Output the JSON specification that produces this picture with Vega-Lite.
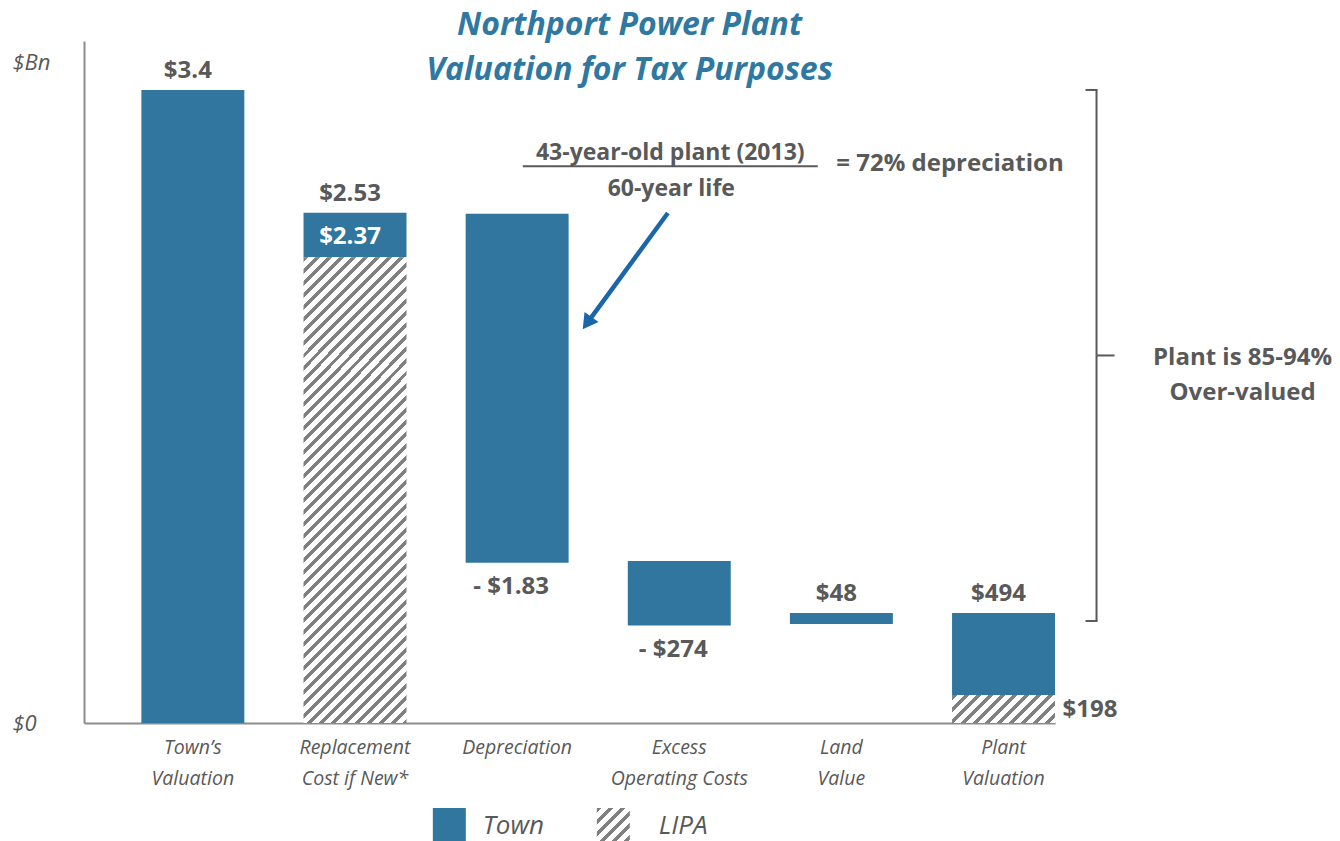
{
  "$schema": "https://vega.github.io/schema/vega-lite/v6.json",
  "width": 971,
  "height": 682,
  "autosize": {"type": "none"},
  "padding": {"left": 84, "top": 41, "right": 285, "bottom": 118},
  "background": "white",
  "config": {"view": {"stroke": null}, "text": {"font": "Open Sans"}},
  "title": {
    "text": ["Northport Power Plant", "Valuation for Tax Purposes"],
    "font": "Open Sans", "fontSize": 32, "fontWeight": "bold", "fontStyle": "italic",
    "color": "#2e78a2", "anchor": "middle", "frame": "group", "dx": 60, "dy": 75,
    "lineHeight": 45, "baseline": "alphabetic", "offset": 4
  },
  "datasets": {
    "segs": [
      {"cat": "Town’s Valuation", "series": "Town", "start": 0, "end": 3.4},
      {"cat": "Replacement Cost if New*", "series": "Town", "start": 2.501, "end": 2.741},
      {"cat": "Replacement Cost if New*", "series": "LIPA", "start": 0, "end": 2.501},
      {"cat": "Depreciation", "series": "Town", "start": 0.861, "end": 2.735},
      {"cat": "Excess Operating Costs", "series": "Town", "start": 0.523, "end": 0.87},
      {"cat": "Land Value", "series": "Town", "start": 0.532, "end": 0.591},
      {"cat": "Plant Valuation", "series": "Town", "start": 0.15, "end": 0.591},
      {"cat": "Plant Valuation", "series": "LIPA", "start": 0, "end": 0.15}
    ],
    "labels": [
      {"cat": "Town’s Valuation", "at": 3.4, "text": "$3.4", "pos": "above"},
      {"cat": "Replacement Cost if New*", "at": 2.741, "text": "$2.53", "pos": "above"},
      {"cat": "Replacement Cost if New*", "at": 2.741, "text": "$2.37", "pos": "inside"},
      {"cat": "Depreciation", "at": 0.861, "text": "- $1.83", "pos": "below"},
      {"cat": "Excess Operating Costs", "at": 0.523, "text": "- $274", "pos": "below"},
      {"cat": "Land Value", "at": 0.591, "text": "$48", "pos": "above"},
      {"cat": "Plant Valuation", "at": 0.591, "text": "$494", "pos": "above"},
      {"cat": "Plant Valuation", "at": 0, "text": "$198", "pos": "right"}
    ],
    "legend": [
      {"cat": "Depreciation", "series": "Town"},
      {"cat": "Depreciation", "series": "LIPA"}
    ],
    "notes": [
      {"id": "frac_top", "cat": "Excess Operating Costs", "y": 3.024, "text": "43-year-old plant (2013)"},
      {"id": "underline", "cat": "Excess Operating Costs", "y": 2.99, "text": ""},
      {"id": "frac_bottom", "cat": "Excess Operating Costs", "y": 2.831, "text": "60-year life"},
      {"id": "result", "cat": "Excess Operating Costs", "y": 2.965, "text": "= 72% depreciation"},
      {"id": "brace_note", "cat": "Plant Valuation", "y": 1.963, "text": "Plant is 85-94%\nOver-valued"}
    ],
    "arrow": [
      {"cat": "Depreciation", "from": 2.739, "to": 2.148}
    ],
    "brace": [
      {"cat": "Plant Valuation", "part": "upper", "top": 3.4, "bottom": 1.974},
      {"cat": "Plant Valuation", "part": "lower", "top": 1.974, "bottom": 0.548}
    ]
  },
  "encoding": {
    "x": {
      "field": "cat", "type": "nominal", "title": null,
      "scale": {
        "domain": ["Town’s Valuation", "Replacement Cost if New*", "Depreciation", "Excess Operating Costs", "Land Value", "Plant Valuation"],
        "paddingInner": 0.365, "paddingOuter": 0.177, "align": 1
      },
      "axis": {
        "domainColor": "#8c8c8c", "domainWidth": 2, "ticks": false, "tickSize": 0, "grid": false,
        "labelAngle": 0, "labelPadding": 15, "labelFont": "Open Sans", "labelFontStyle": "italic",
        "labelFontSize": 19.5, "labelColor": "#595959", "labelLineHeight": 31, "labelBaseline": "top",
        "labelExpr": "indexof(datum.label, ' ') > 0 ? [slice(datum.label, 0, indexof(datum.label, ' ')), slice(datum.label, indexof(datum.label, ' ') + 1)] : datum.label",
        "title": null
      }
    }
  },
  "layer": [
    {
      "data": {"name": "segs"},
      "transform": [{"filter": "datum.series === 'Town'"}],
      "mark": {"type": "bar", "opacity": 1},
      "encoding": {
        "y": {
          "field": "start", "type": "quantitative", "title": null,
          "scale": {"domain": [0, 3.663], "nice": false, "zero": false},
          "axis": {
            "domainColor": "#8c8c8c", "domainWidth": 2, "ticks": false, "tickSize": 0, "grid": false,
            "values": [0, 3.55], "labelExpr": "datum.value == 0 ? '$0' : '$Bn'",
            "labelAlign": "left", "labelPadding": 72, "labelFont": "Open Sans", "labelFontStyle": "italic",
            "labelFontSize": 22, "labelColor": "#595959", "labelBaseline": "middle", "labelFlush": false,
            "title": null
          }
        },
        "y2": {"field": "end"},
        "color": {
          "field": "series", "type": "nominal",
          "scale": {"domain": ["Town", "LIPA"], "range": ["#31769e", "#808080"]},
          "legend": null
        }
      }
    },
    {
      "data": {"name": "segs"},
      "transform": [{"filter": "datum.series === 'LIPA' && datum.cat === 'Replacement Cost if New*'"}],
      "mark": {"type": "bar", "fill": {"gradient": "linear", "x1": 0, "y1": 0, "x2": 0.2724, "y2": 1.23, "stops": [
        {"offset": 0, "color": "#808080"}, {"offset": 0.0083, "color": "#808080"}, {"offset": 0.0083, "color": "#ffffff"}, {"offset": 0.02, "color": "#ffffff"},
        {"offset": 0.02, "color": "#808080"}, {"offset": 0.0283, "color": "#808080"}, {"offset": 0.0283, "color": "#ffffff"}, {"offset": 0.04, "color": "#ffffff"},
        {"offset": 0.04, "color": "#808080"}, {"offset": 0.0483, "color": "#808080"}, {"offset": 0.0483, "color": "#ffffff"}, {"offset": 0.06, "color": "#ffffff"},
        {"offset": 0.06, "color": "#808080"}, {"offset": 0.0683, "color": "#808080"}, {"offset": 0.0683, "color": "#ffffff"}, {"offset": 0.08, "color": "#ffffff"},
        {"offset": 0.08, "color": "#808080"}, {"offset": 0.0883, "color": "#808080"}, {"offset": 0.0883, "color": "#ffffff"}, {"offset": 0.1, "color": "#ffffff"},
        {"offset": 0.1, "color": "#808080"}, {"offset": 0.1083, "color": "#808080"}, {"offset": 0.1083, "color": "#ffffff"}, {"offset": 0.12, "color": "#ffffff"},
        {"offset": 0.12, "color": "#808080"}, {"offset": 0.1283, "color": "#808080"}, {"offset": 0.1283, "color": "#ffffff"}, {"offset": 0.14, "color": "#ffffff"},
        {"offset": 0.14, "color": "#808080"}, {"offset": 0.1483, "color": "#808080"}, {"offset": 0.1483, "color": "#ffffff"}, {"offset": 0.16, "color": "#ffffff"},
        {"offset": 0.16, "color": "#808080"}, {"offset": 0.1683, "color": "#808080"}, {"offset": 0.1683, "color": "#ffffff"}, {"offset": 0.18, "color": "#ffffff"},
        {"offset": 0.18, "color": "#808080"}, {"offset": 0.1883, "color": "#808080"}, {"offset": 0.1883, "color": "#ffffff"}, {"offset": 0.2, "color": "#ffffff"},
        {"offset": 0.2, "color": "#808080"}, {"offset": 0.2083, "color": "#808080"}, {"offset": 0.2083, "color": "#ffffff"}, {"offset": 0.22, "color": "#ffffff"},
        {"offset": 0.22, "color": "#808080"}, {"offset": 0.2283, "color": "#808080"}, {"offset": 0.2283, "color": "#ffffff"}, {"offset": 0.24, "color": "#ffffff"},
        {"offset": 0.24, "color": "#808080"}, {"offset": 0.2483, "color": "#808080"}, {"offset": 0.2483, "color": "#ffffff"}, {"offset": 0.26, "color": "#ffffff"},
        {"offset": 0.26, "color": "#808080"}, {"offset": 0.2683, "color": "#808080"}, {"offset": 0.2683, "color": "#ffffff"}, {"offset": 0.28, "color": "#ffffff"},
        {"offset": 0.28, "color": "#808080"}, {"offset": 0.2883, "color": "#808080"}, {"offset": 0.2883, "color": "#ffffff"}, {"offset": 0.3, "color": "#ffffff"},
        {"offset": 0.3, "color": "#808080"}, {"offset": 0.3083, "color": "#808080"}, {"offset": 0.3083, "color": "#ffffff"}, {"offset": 0.32, "color": "#ffffff"},
        {"offset": 0.32, "color": "#808080"}, {"offset": 0.3283, "color": "#808080"}, {"offset": 0.3283, "color": "#ffffff"}, {"offset": 0.34, "color": "#ffffff"},
        {"offset": 0.34, "color": "#808080"}, {"offset": 0.3483, "color": "#808080"}, {"offset": 0.3483, "color": "#ffffff"}, {"offset": 0.36, "color": "#ffffff"},
        {"offset": 0.36, "color": "#808080"}, {"offset": 0.3683, "color": "#808080"}, {"offset": 0.3683, "color": "#ffffff"}, {"offset": 0.38, "color": "#ffffff"},
        {"offset": 0.38, "color": "#808080"}, {"offset": 0.3883, "color": "#808080"}, {"offset": 0.3883, "color": "#ffffff"}, {"offset": 0.4, "color": "#ffffff"},
        {"offset": 0.4, "color": "#808080"}, {"offset": 0.4083, "color": "#808080"}, {"offset": 0.4083, "color": "#ffffff"}, {"offset": 0.42, "color": "#ffffff"},
        {"offset": 0.42, "color": "#808080"}, {"offset": 0.4283, "color": "#808080"}, {"offset": 0.4283, "color": "#ffffff"}, {"offset": 0.44, "color": "#ffffff"},
        {"offset": 0.44, "color": "#808080"}, {"offset": 0.4483, "color": "#808080"}, {"offset": 0.4483, "color": "#ffffff"}, {"offset": 0.46, "color": "#ffffff"},
        {"offset": 0.46, "color": "#808080"}, {"offset": 0.4683, "color": "#808080"}, {"offset": 0.4683, "color": "#ffffff"}, {"offset": 0.48, "color": "#ffffff"},
        {"offset": 0.48, "color": "#808080"}, {"offset": 0.4883, "color": "#808080"}, {"offset": 0.4883, "color": "#ffffff"}, {"offset": 0.5, "color": "#ffffff"},
        {"offset": 0.5, "color": "#808080"}, {"offset": 0.5083, "color": "#808080"}, {"offset": 0.5083, "color": "#ffffff"}, {"offset": 0.52, "color": "#ffffff"},
        {"offset": 0.52, "color": "#808080"}, {"offset": 0.5283, "color": "#808080"}, {"offset": 0.5283, "color": "#ffffff"}, {"offset": 0.54, "color": "#ffffff"},
        {"offset": 0.54, "color": "#808080"}, {"offset": 0.5483, "color": "#808080"}, {"offset": 0.5483, "color": "#ffffff"}, {"offset": 0.56, "color": "#ffffff"},
        {"offset": 0.56, "color": "#808080"}, {"offset": 0.5683, "color": "#808080"}, {"offset": 0.5683, "color": "#ffffff"}, {"offset": 0.58, "color": "#ffffff"},
        {"offset": 0.58, "color": "#808080"}, {"offset": 0.5883, "color": "#808080"}, {"offset": 0.5883, "color": "#ffffff"}, {"offset": 0.6, "color": "#ffffff"},
        {"offset": 0.6, "color": "#808080"}, {"offset": 0.6083, "color": "#808080"}, {"offset": 0.6083, "color": "#ffffff"}, {"offset": 0.62, "color": "#ffffff"},
        {"offset": 0.62, "color": "#808080"}, {"offset": 0.6283, "color": "#808080"}, {"offset": 0.6283, "color": "#ffffff"}, {"offset": 0.64, "color": "#ffffff"},
        {"offset": 0.64, "color": "#808080"}, {"offset": 0.6483, "color": "#808080"}, {"offset": 0.6483, "color": "#ffffff"}, {"offset": 0.66, "color": "#ffffff"},
        {"offset": 0.66, "color": "#808080"}, {"offset": 0.6683, "color": "#808080"}, {"offset": 0.6683, "color": "#ffffff"}, {"offset": 0.68, "color": "#ffffff"},
        {"offset": 0.68, "color": "#808080"}, {"offset": 0.6883, "color": "#808080"}, {"offset": 0.6883, "color": "#ffffff"}, {"offset": 0.7, "color": "#ffffff"},
        {"offset": 0.7, "color": "#808080"}, {"offset": 0.7083, "color": "#808080"}, {"offset": 0.7083, "color": "#ffffff"}, {"offset": 0.72, "color": "#ffffff"},
        {"offset": 0.72, "color": "#808080"}, {"offset": 0.7283, "color": "#808080"}, {"offset": 0.7283, "color": "#ffffff"}, {"offset": 0.74, "color": "#ffffff"},
        {"offset": 0.74, "color": "#808080"}, {"offset": 0.7483, "color": "#808080"}, {"offset": 0.7483, "color": "#ffffff"}, {"offset": 0.76, "color": "#ffffff"},
        {"offset": 0.76, "color": "#808080"}, {"offset": 0.7683, "color": "#808080"}, {"offset": 0.7683, "color": "#ffffff"}, {"offset": 0.78, "color": "#ffffff"},
        {"offset": 0.78, "color": "#808080"}, {"offset": 0.7883, "color": "#808080"}, {"offset": 0.7883, "color": "#ffffff"}, {"offset": 0.8, "color": "#ffffff"},
        {"offset": 0.8, "color": "#808080"}, {"offset": 0.8083, "color": "#808080"}, {"offset": 0.8083, "color": "#ffffff"}, {"offset": 0.82, "color": "#ffffff"},
        {"offset": 0.82, "color": "#808080"}, {"offset": 0.8283, "color": "#808080"}, {"offset": 0.8283, "color": "#ffffff"}, {"offset": 0.84, "color": "#ffffff"},
        {"offset": 0.84, "color": "#808080"}, {"offset": 0.8483, "color": "#808080"}, {"offset": 0.8483, "color": "#ffffff"}, {"offset": 0.86, "color": "#ffffff"},
        {"offset": 0.86, "color": "#808080"}, {"offset": 0.8683, "color": "#808080"}, {"offset": 0.8683, "color": "#ffffff"}, {"offset": 0.88, "color": "#ffffff"},
        {"offset": 0.88, "color": "#808080"}, {"offset": 0.8883, "color": "#808080"}, {"offset": 0.8883, "color": "#ffffff"}, {"offset": 0.9, "color": "#ffffff"},
        {"offset": 0.9, "color": "#808080"}, {"offset": 0.9083, "color": "#808080"}, {"offset": 0.9083, "color": "#ffffff"}, {"offset": 0.92, "color": "#ffffff"},
        {"offset": 0.92, "color": "#808080"}, {"offset": 0.9283, "color": "#808080"}, {"offset": 0.9283, "color": "#ffffff"}, {"offset": 0.94, "color": "#ffffff"},
        {"offset": 0.94, "color": "#808080"}, {"offset": 0.9483, "color": "#808080"}, {"offset": 0.9483, "color": "#ffffff"}, {"offset": 0.96, "color": "#ffffff"},
        {"offset": 0.96, "color": "#808080"}, {"offset": 0.9683, "color": "#808080"}, {"offset": 0.9683, "color": "#ffffff"}, {"offset": 1, "color": "#ffffff"}
      ]}},
      "encoding": {
        "y": {"field": "start", "type": "quantitative", "title": null},
        "y2": {"field": "end"}
      }
    },
    {
      "data": {"name": "segs"},
      "transform": [{"filter": "datum.series === 'LIPA' && datum.cat === 'Plant Valuation'"}],
      "mark": {"type": "bar", "fill": {"gradient": "linear", "x1": 0, "y1": 0, "x2": 1.1934, "y2": 0.3244, "stops": [
        {"offset": 0, "color": "#808080"}, {"offset": 0.0379, "color": "#808080"}, {"offset": 0.0379, "color": "#ffffff"}, {"offset": 0.0909, "color": "#ffffff"},
        {"offset": 0.0909, "color": "#808080"}, {"offset": 0.1288, "color": "#808080"}, {"offset": 0.1288, "color": "#ffffff"}, {"offset": 0.1818, "color": "#ffffff"},
        {"offset": 0.1818, "color": "#808080"}, {"offset": 0.2197, "color": "#808080"}, {"offset": 0.2197, "color": "#ffffff"}, {"offset": 0.2727, "color": "#ffffff"},
        {"offset": 0.2727, "color": "#808080"}, {"offset": 0.3106, "color": "#808080"}, {"offset": 0.3106, "color": "#ffffff"}, {"offset": 0.3636, "color": "#ffffff"},
        {"offset": 0.3636, "color": "#808080"}, {"offset": 0.4015, "color": "#808080"}, {"offset": 0.4015, "color": "#ffffff"}, {"offset": 0.4545, "color": "#ffffff"},
        {"offset": 0.4545, "color": "#808080"}, {"offset": 0.4924, "color": "#808080"}, {"offset": 0.4924, "color": "#ffffff"}, {"offset": 0.5455, "color": "#ffffff"},
        {"offset": 0.5455, "color": "#808080"}, {"offset": 0.5833, "color": "#808080"}, {"offset": 0.5833, "color": "#ffffff"}, {"offset": 0.6364, "color": "#ffffff"},
        {"offset": 0.6364, "color": "#808080"}, {"offset": 0.6742, "color": "#808080"}, {"offset": 0.6742, "color": "#ffffff"}, {"offset": 0.7273, "color": "#ffffff"},
        {"offset": 0.7273, "color": "#808080"}, {"offset": 0.7652, "color": "#808080"}, {"offset": 0.7652, "color": "#ffffff"}, {"offset": 0.8182, "color": "#ffffff"},
        {"offset": 0.8182, "color": "#808080"}, {"offset": 0.8561, "color": "#808080"}, {"offset": 0.8561, "color": "#ffffff"}, {"offset": 0.9091, "color": "#ffffff"},
        {"offset": 0.9091, "color": "#808080"}, {"offset": 0.947, "color": "#808080"}, {"offset": 0.947, "color": "#ffffff"}, {"offset": 1, "color": "#ffffff"}
      ]}},
      "encoding": {
        "y": {"field": "start", "type": "quantitative", "title": null},
        "y2": {"field": "end"}
      }
    },
    {
      "data": {"name": "legend"},
      "transform": [{"filter": "datum.series === 'Town'"}],
      "mark": {"type": "point", "shape": "square", "filled": true, "size": 1089, "color": "#31769e", "opacity": 1, "xOffset": -67.8, "yOffset": 101.5, "strokeWidth": 0},
      "encoding": {"y": {"datum": 0, "type": "quantitative"}}
    },
    {
      "data": {"name": "legend"},
      "transform": [{"filter": "datum.series === 'LIPA'"}],
      "mark": {"type": "point", "shape": "square", "filled": true, "size": 1089, "opacity": 1, "xOffset": 96.2, "yOffset": 101.5, "strokeWidth": 0,
        "fill": {"gradient": "linear", "x1": 0, "y1": 0, "x2": 1.0909, "y2": 1.0909, "stops": [
          {"offset": 0, "color": "#808080"}, {"offset": 0.0694, "color": "#808080"}, {"offset": 0.0694, "color": "#ffffff"}, {"offset": 0.1667, "color": "#ffffff"},
          {"offset": 0.1667, "color": "#808080"}, {"offset": 0.2361, "color": "#808080"}, {"offset": 0.2361, "color": "#ffffff"}, {"offset": 0.3333, "color": "#ffffff"},
          {"offset": 0.3333, "color": "#808080"}, {"offset": 0.4028, "color": "#808080"}, {"offset": 0.4028, "color": "#ffffff"}, {"offset": 0.5, "color": "#ffffff"},
          {"offset": 0.5, "color": "#808080"}, {"offset": 0.5694, "color": "#808080"}, {"offset": 0.5694, "color": "#ffffff"}, {"offset": 0.6667, "color": "#ffffff"},
          {"offset": 0.6667, "color": "#808080"}, {"offset": 0.7361, "color": "#808080"}, {"offset": 0.7361, "color": "#ffffff"}, {"offset": 0.8333, "color": "#ffffff"},
          {"offset": 0.8333, "color": "#808080"}, {"offset": 0.9028, "color": "#808080"}, {"offset": 0.9028, "color": "#ffffff"}, {"offset": 1, "color": "#ffffff"}
        ]}},
      "encoding": {"y": {"datum": 0, "type": "quantitative"}}
    },
    {
      "data": {"name": "legend"},
      "transform": [{"filter": "datum.series === 'Town'"}],
      "mark": {"type": "text", "fontSize": 26, "fontStyle": "italic", "color": "#595959", "align": "left", "baseline": "middle", "dx": -34.3, "dy": 103},
      "encoding": {"y": {"datum": 0, "type": "quantitative"}, "text": {"field": "series"}}
    },
    {
      "data": {"name": "legend"},
      "transform": [{"filter": "datum.series === 'LIPA'"}],
      "mark": {"type": "text", "fontSize": 26, "fontStyle": "italic", "color": "#595959", "align": "left", "baseline": "middle", "dx": 141.7, "dy": 103},
      "encoding": {"y": {"datum": 0, "type": "quantitative"}, "text": {"field": "series"}}
    },
    {
      "data": {"name": "labels"},
      "transform": [{"filter": "datum.pos === 'above'"}],
      "mark": {"type": "text", "fontSize": 24, "fontWeight": "bold", "color": "#595959", "baseline": "alphabetic", "dy": -12, "dx": -5},
      "encoding": {"y": {"field": "at", "type": "quantitative", "title": null}, "text": {"field": "text"}}
    },
    {
      "data": {"name": "labels"},
      "transform": [{"filter": "datum.pos === 'below'"}],
      "mark": {"type": "text", "fontSize": 24, "fontWeight": "bold", "color": "#595959", "baseline": "alphabetic", "dy": 31, "dx": -6},
      "encoding": {"y": {"field": "at", "type": "quantitative", "title": null}, "text": {"field": "text"}}
    },
    {
      "data": {"name": "labels"},
      "transform": [{"filter": "datum.pos === 'inside'"}],
      "mark": {"type": "text", "fontSize": 24, "fontWeight": "bold", "color": "#ffffff", "baseline": "alphabetic", "dy": 31, "dx": -5},
      "encoding": {"y": {"field": "at", "type": "quantitative", "title": null}, "text": {"field": "text"}}
    },
    {
      "data": {"name": "labels"},
      "transform": [{"filter": "datum.pos === 'right'"}],
      "mark": {"type": "text", "fontSize": 24, "fontWeight": "bold", "color": "#595959", "baseline": "alphabetic", "align": "left", "dy": -6, "dx": 59},
      "encoding": {"y": {"field": "at", "type": "quantitative", "title": null}, "text": {"field": "text"}}
    },
    {
      "data": {"name": "notes"},
      "transform": [{"filter": "datum.id === 'frac_top'"}],
      "mark": {"type": "text", "fontSize": 23, "fontWeight": "bold", "color": "#595959", "baseline": "alphabetic", "dx": -9},
      "encoding": {"y": {"field": "y", "type": "quantitative", "title": null}, "text": {"field": "text"}}
    },
    {
      "data": {"name": "notes"},
      "transform": [{"filter": "datum.id === 'underline'"}],
      "mark": {"type": "tick", "color": "#595959", "size": 295, "thickness": 2, "xOffset": -9, "opacity": 1},
      "encoding": {"y": {"field": "y", "type": "quantitative", "title": null}}
    },
    {
      "data": {"name": "notes"},
      "transform": [{"filter": "datum.id === 'frac_bottom'"}],
      "mark": {"type": "text", "fontSize": 23, "fontWeight": "bold", "color": "#595959", "baseline": "alphabetic", "dx": -8},
      "encoding": {"y": {"field": "y", "type": "quantitative", "title": null}, "text": {"field": "text"}}
    },
    {
      "data": {"name": "notes"},
      "transform": [{"filter": "datum.id === 'result'"}],
      "mark": {"type": "text", "fontSize": 24, "fontWeight": "bold", "color": "#595959", "baseline": "alphabetic", "align": "left", "dx": 157},
      "encoding": {"y": {"field": "y", "type": "quantitative", "title": null}, "text": {"field": "text"}}
    },
    {
      "data": {"name": "notes"},
      "transform": [{"filter": "datum.id === 'brace_note'"}],
      "mark": {"type": "text", "fontSize": 24, "fontWeight": "bold", "color": "#595959", "baseline": "middle", "align": "center", "dx": 239, "lineBreak": "\n", "lineHeight": 35},
      "encoding": {"y": {"field": "y", "type": "quantitative", "title": null}, "text": {"field": "text"}}
    },
    {
      "data": {"name": "arrow"},
      "mark": {"type": "rule", "color": "#1a66a8", "strokeWidth": 4.5, "xOffset": 150.7, "x2Offset": 70},
      "encoding": {
        "x2": {"field": "cat"},
        "y": {"field": "from", "type": "quantitative", "title": null},
        "y2": {"field": "to"}
      }
    },
    {
      "data": {"name": "arrow"},
      "mark": {"type": "point", "shape": "triangle-up", "filled": true, "color": "#1a66a8", "opacity": 1, "size": 300, "angle": 216, "xOffset": 70},
      "encoding": {"y": {"field": "to", "type": "quantitative", "title": null}}
    },
    {
      "data": {"name": "brace"},
      "mark": {"type": "rule", "color": "#595959", "strokeWidth": 2, "xOffset": 93},
      "encoding": {
        "y": {"field": "top", "type": "quantitative", "title": null},
        "y2": {"field": "bottom"}
      }
    },
    {
      "data": {"name": "brace"},
      "transform": [{"filter": "datum.part === 'lower'"}],
      "mark": {"type": "tick", "color": "#595959", "size": 18, "thickness": 2, "xOffset": 102, "opacity": 1},
      "encoding": {"y": {"field": "top", "type": "quantitative", "title": null}}
    },
    {
      "data": {"name": "brace"},
      "transform": [{"filter": "datum.part === 'upper'"}],
      "mark": {"type": "tick", "color": "#595959", "size": 12, "thickness": 2, "xOffset": 88, "opacity": 1},
      "encoding": {"y": {"field": "top", "type": "quantitative", "title": null}}
    },
    {
      "data": {"name": "brace"},
      "transform": [{"filter": "datum.part === 'lower'"}],
      "mark": {"type": "tick", "color": "#595959", "size": 12, "thickness": 2, "xOffset": 88, "opacity": 1},
      "encoding": {"y": {"field": "bottom", "type": "quantitative", "title": null}}
    }
  ]
}
